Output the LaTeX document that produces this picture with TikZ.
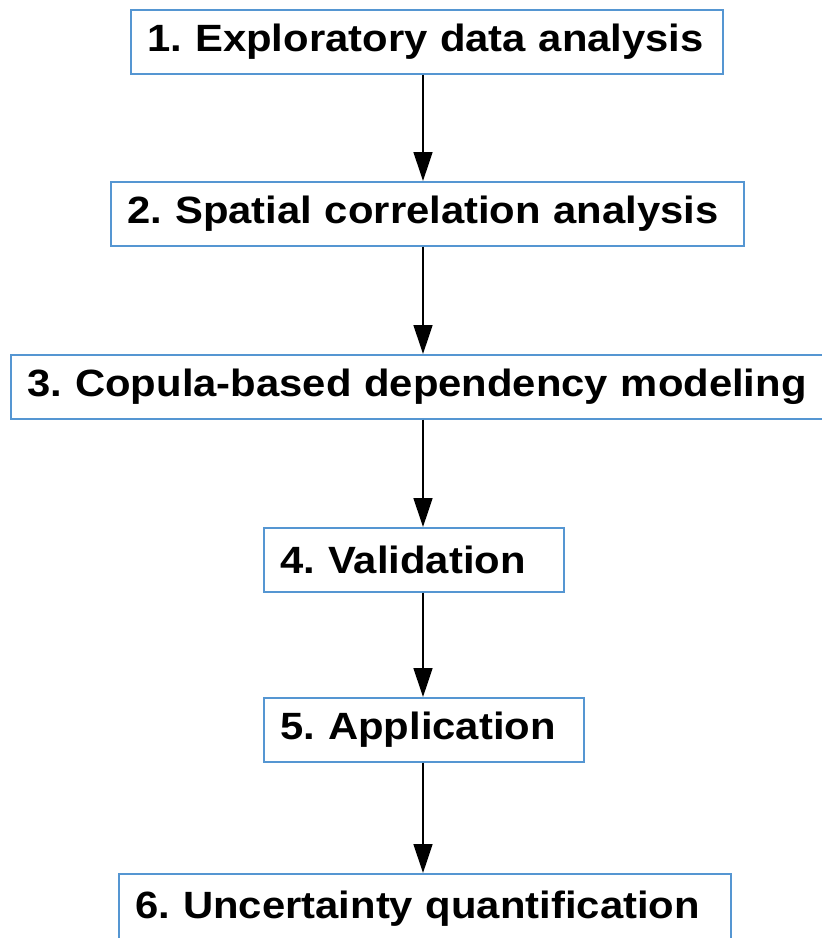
\documentclass[tikz,border=0pt]{standalone}
\usepackage{fontspec}
\setmainfont{Liberation Sans}[FakeStretch=1.1]
\usetikzlibrary{arrows.meta}
\definecolor{boxblue}{RGB}{85,150,210}
\frenchspacing

\begin{document}
\begin{tikzpicture}[x=1pt, y=-1pt,
      stagebox/.style={draw=boxblue, line width=1.5pt, anchor=north west,
         minimum height=64pt, inner xsep=17pt, inner ysep=0pt, align=left,
         font=\fontsize{38}{44}\selectfont\bfseries},
      flow/.style={-{Triangle[width=19pt, length=29pt]}, line width=1.3pt}]
   \useasboundingbox (0, 0) rectangle (822, 938);
   % the six stages, top to bottom
   \foreach \n/\x/\y/\w/\h/\t in {
         s1/130/9/558/64/{1. Exploratory data analysis},
         s2/110/181/599/64/{2. Spatial correlation analysis},
         s3/10/354/786/64/{3. Copula-based dependency modeling},
         s4/263/527/266/64/{4. Validation},
         s5/263/697/286/64/{5. Application},
         s6/118/873/578/70/{6. Uncertainty quantification}} {
      \node[stagebox, text width=\w pt, minimum height=\h pt] (\n) at (\x, \y) {\mbox{\t}};
   }
   \coordinate (axis) at (423, 0);
   \foreach \a/\b in {s1/s2, s2/s3, s3/s4, s4/s5, s5/s6} {
      \draw[flow] (\a.south -| axis) -- (\b.north -| axis);
   }
\end{tikzpicture}
\end{document}
